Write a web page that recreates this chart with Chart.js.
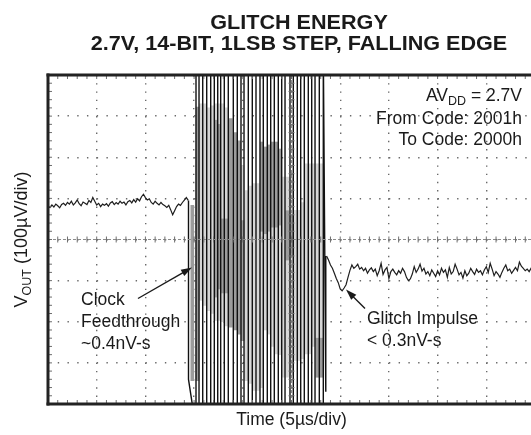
<!DOCTYPE html>
<html>
<head>
<meta charset="utf-8">
<title>Glitch Energy</title>
<script src="https://cdn.jsdelivr.net/npm/chart.js@4.4.1/dist/chart.umd.min.js"></script>
<style>
  html, body { margin: 0; padding: 0; background: #fff; overflow: hidden; }
  #scope { display: block; }
</style>
</head>
<body>
<canvas id="scope" width="540" height="435"></canvas>
<script>
// graticule: 10 x 8 divisions
const xTicks = [0, 1, 2, 3, 4, 5, 6, 7, 8, 9, 10];
const yTicks = [-4, -3, -2, -1, 0, 1, 2, 3, 4];

// scope record spacing (div per sample)
const sampleStep = 0.04;

// trace before the clock edge, starting at 0 div
const preStart = 0;
const preTrace = [
  0.80, 0.78, 0.84, 0.79, 0.86, 0.82, 0.77, 0.85, 0.88, 0.83,
  0.90, 0.86, 0.93, 0.84, 0.89, 0.96, 0.87, 0.82, 0.91, 0.88,
  0.85, 0.95, 0.90, 1.02, 0.93, 0.84, 0.88, 0.80, 0.86, 0.83,
  0.87, 0.81, 0.89, 0.92, 0.85, 0.90, 0.86, 0.93, 0.88, 0.91,
  0.84, 0.92, 0.95, 0.89, 0.97, 0.91, 0.99, 0.94, 1.04, 1.10,
  1.02, 0.96, 0.99, 0.90, 0.86, 0.93, 0.88, 0.84, 0.90, 0.85,
  0.82, 0.78, 0.83, 0.72, 0.60, 0.70, 0.80, 0.86, 0.83, 0.90,
  0.96, 1.02, 0.95
];

// trace after the code change settles
const postStart = 5.72;
const postTrace = [
  -0.40, -0.50, -0.62, -0.70, -0.82, -0.95, -1.05, -1.20, -1.25, -1.18,
  -1.10, -0.92, -0.75, -0.62, -0.70, -0.66, -0.60, -0.72, -0.68, -0.76,
  -0.70, -0.82, -0.74, -0.69, -0.78, -0.72, -0.88, -0.76, -0.58, -0.85,
  -0.74, -0.68, -0.95, -0.78, -0.72, -0.80, -0.86, -0.76, -0.82, -0.70,
  -0.78, -0.92, -1.00, -0.96, -0.84, -0.66, -0.80, -0.72, -0.60, -0.77,
  -0.70, -0.84, -0.78, -0.88, -0.74, -0.82, -0.90, -0.76, -0.86, -0.70,
  -0.80, -0.74, -0.92, -0.68, -0.84, -0.78, -0.60, -0.72, -0.86, -0.80,
  -0.94, -0.76, -0.88, -0.82, -0.70, -0.78, -0.85, -0.72, -0.80, -0.76,
  -0.86, -0.74, -0.66, -0.80, -0.58, -0.72, -0.88, -0.78, -0.84, -0.92,
  -0.80, -0.70, -0.62, -0.76, -0.72, -0.82, -0.75, -0.68, -0.76, -0.55,
  -0.65, -0.70, -0.76, -0.72, -0.78, -0.70, -0.74, -0.72
];

// clock ringing: stroke times and the level each stroke runs from / to
const ringX = [
  2.885, 3.039, 3.101, 3.177, 3.259, 3.341, 3.415, 3.485, 3.546, 3.620,
  3.702, 3.805, 3.887, 3.963, 4.025, 4.113, 4.195, 4.271, 4.353, 4.421,
  4.503, 4.573, 4.647, 4.729, 4.799, 4.867, 4.969, 5.037, 5.119, 5.189,
  5.263, 5.345, 5.415, 5.483, 5.571, 5.653, 5.704
];
const ringFrom = [
  0.95, -4.6, 4.6, -4.6, 4.6, -4.6, 4.6, -4.6, 4.6, -4.6,
  4.6, -4.6, 4.6, -4.6, 4.6, -4.6, 4.6, -4.6, 4.6, -4.6,
  4.6, -4.6, 4.6, -4.6, 4.6, -4.6, 4.6, -4.6, 4.6, -4.6,
  4.6, -4.6, 4.6, -4.6, 4.6, -4.6, -3.70
];
const ringTo = [
  -3.40, 4.6, -4.6, 4.6, -4.6, 4.6, -4.6, 4.6, -4.6, 4.6,
  -4.6, 4.6, -4.6, 4.6, -4.6, 4.6, -4.6, 4.6, -4.6, 4.6,
  -4.6, 4.6, -4.6, 4.6, -4.6, 4.6, -4.6, 4.6, -4.6, 4.6,
  -4.6, 4.6, -4.6, 4.6, -4.6, 4.6, -0.40
];

// persistence shading between the ringing strokes
const gapX = [
  2.963, 3.070, 3.140, 3.218, 3.300, 3.378, 3.450, 3.515, 3.583, 3.661,
  3.754, 3.846, 3.926, 3.994, 4.070, 4.154, 4.234, 4.312, 4.388, 4.462,
  4.538, 4.610, 4.688, 4.764, 4.834, 4.918, 5.004, 5.078, 5.154, 5.226,
  5.304, 5.380, 5.450, 5.528, 5.612
];
const lightLo = [
  null, null, -1.48, -1.60, -1.73, -1.80, -1.97, -1.97, -2.00, -2.10,
  null, null, null, -2.00, -3.43, -3.50, -3.67, -3.67, -3.60, -2.20,
  -2.30, -2.60, -2.78, -2.80, -3.35, -3.35, -3.30, -2.94, -2.94, -2.90,
  -2.78, -2.78, -2.60, -2.54, -2.54
];
const lightHi = [
  null, null, 3.30, 3.30, 3.20, 3.25, 3.30, 3.30, 3.30, 3.20,
  null, null, null, 1.80, 1.19, 1.30, 1.36, 1.36, 1.40, 0.14,
  0.20, 0.30, 0.30, 0.35, 1.52, 1.52, 1.50, 0.71, 0.71, 0.90,
  1.84, 1.84, 1.84, 1.84, 1.84
];
const darkLo = [
  -3.43, -3.43, null, null, null, null, -1.40, -1.20, -1.30, -1.30,
  -2.13, -2.20, -2.30, -2.46, null, null, null, null, 0.20, 0.14,
  0.20, 0.30, 0.30, 0.35, null, -0.50, -0.40, null, null, null,
  null, null, null, -3.35, -3.35
];
const darkHi = [
  0.83, 3.22, null, null, null, null, 2.90, 2.80, 0.50, 0.50,
  2.94, 2.60, 2.40, 0.46, null, null, null, null, 2.37, 2.25,
  2.30, 2.37, 2.37, 2.20, null, 0.70, 0.60, null, null, null,
  null, null, null, -2.40, -2.40
];

const prePoints = preTrace.map((v, i) => ({ x: preStart + i * sampleStep, y: v }));
const postPoints = postTrace.map((v, i) => ({ x: postStart + i * sampleStep, y: v }));

const ringPoints = [];
ringX.forEach((t, i) => {
  ringPoints.push({ x: t, y: ringFrom[i] });
  ringPoints.push({ x: t, y: ringTo[i] });
});

function bands(lo, hi) {
  const out = [];
  gapX.forEach((t, i) => {
    if (lo[i] !== null) out.push({ x: t, y: [lo[i], hi[i]] });
  });
  return out;
}

const FONT = '"Liberation Sans", Arial, Helvetica, sans-serif';

// draws runs of text (with subscripts) starting at x, returns width
function drawRuns(ctx, parts, x, baseline) {
  let cx = x;
  for (const [t, size, dy] of parts) {
    ctx.font = size + 'px ' + FONT;
    ctx.fillText(t, cx, baseline + dy);
    cx += ctx.measureText(t).width;
  }
  return cx - x;
}
function runsWidth(ctx, parts) {
  let w = 0;
  for (const [t, size] of parts) {
    ctx.font = size + 'px ' + FONT;
    w += ctx.measureText(t).width;
  }
  return w;
}

function arrow(ctx, x1, y1, x2, y2) {
  const ang = Math.atan2(y2 - y1, x2 - x1);
  const len = 11, half = 3.6;
  ctx.beginPath();
  ctx.moveTo(x1, y1);
  ctx.lineTo(x2 - Math.cos(ang) * len * 0.8, y2 - Math.sin(ang) * len * 0.8);
  ctx.stroke();
  ctx.beginPath();
  ctx.moveTo(x2, y2);
  ctx.lineTo(x2 - Math.cos(ang) * len - Math.sin(ang) * half, y2 - Math.sin(ang) * len + Math.cos(ang) * half);
  ctx.lineTo(x2 - Math.cos(ang) * len + Math.sin(ang) * half, y2 - Math.sin(ang) * len - Math.cos(ang) * half);
  ctx.closePath();
  ctx.fill();
}

const graticule = {
  id: 'graticule',
  afterDatasetsDraw(chart) {
    const { ctx, chartArea: a, scales: { x, y } } = chart;
    const seg = (x1, y1, x2, y2) => { ctx.beginPath(); ctx.moveTo(x1, y1); ctx.lineTo(x2, y2); ctx.stroke(); };
    const xMid = x.getPixelForValue(xTicks[(xTicks.length - 1) / 2]);
    const yMid = y.getPixelForValue(yTicks[(yTicks.length - 1) / 2]);

    ctx.save();
    // centre cross
    ctx.strokeStyle = '#8c8c8c';
    ctx.lineWidth = 1;
    ctx.setLineDash([3, 2]);
    seg(a.left, yMid, a.right, yMid);
    seg(xMid, a.top, xMid, a.bottom);
    ctx.setLineDash([]);

    // minor ticks on the centre cross and along the frame
    ctx.strokeStyle = '#6e6e6e';
    for (let k = 0; k < xTicks.length - 1; k++) {
      for (let m = 0; m < 5; m++) {
        const px = x.getPixelForValue(xTicks[k] + m * (xTicks[k + 1] - xTicks[k]) / 5);
        seg(px, yMid - 3, px, yMid + 3);
        seg(px, a.top, px, a.top + 4);
        seg(px, a.bottom - 4, px, a.bottom);
      }
    }
    for (let k = 0; k < yTicks.length - 1; k++) {
      for (let m = 0; m < 5; m++) {
        const py = y.getPixelForValue(yTicks[k] + m * (yTicks[k + 1] - yTicks[k]) / 5);
        seg(xMid - 3, py, xMid + 3, py);
        seg(a.left, py, a.left + 4, py);
      }
    }

    // frame
    ctx.strokeStyle = '#222';
    ctx.lineWidth = 3;
    ctx.lineCap = 'square';
    seg(a.left, a.top, a.right, a.top);
    seg(a.left, a.top, a.left, a.bottom);
    seg(a.left, a.bottom, a.right, a.bottom);
    ctx.restore();
  },
  afterDraw(chart) {
    const { ctx, scales: { x, y } } = chart;
    ctx.save();
    ctx.fillStyle = '#1a1a1a';
    ctx.strokeStyle = '#1a1a1a';
    ctx.textBaseline = 'alphabetic';

    // title, slightly widened
    ctx.save();
    ctx.textAlign = 'center';
    ctx.translate(299, 0);
    ctx.scale(1.08, 1);
    ctx.font = 'bold 20px ' + FONT;
    ctx.fillText('GLITCH ENERGY', 0, 29);
    ctx.fillText('2.7V, 14-BIT, 1LSB STEP, FALLING EDGE', 0, 50);
    ctx.restore();

    ctx.textAlign = 'left';
    // axis titles
    ctx.font = '17.5px ' + FONT;
    const tLabel = 'Time (5µs/div)';
    ctx.fillText(tLabel, x.getPixelForValue(5) - ctx.measureText(tLabel).width / 2, 425);

    const yParts = [['V', 18, 0], ['OUT', 12.5, 4], [' (100µV/div)', 18, 0]];
    ctx.save();
    ctx.translate(20, y.getPixelForValue(0));
    ctx.rotate(-Math.PI / 2);
    drawRuns(ctx, yParts, -runsWidth(ctx, yParts) / 2, 6.5);
    ctx.restore();

    // supply and code notes, right aligned
    const right = 522;
    const avParts = [['AV', 17.5, 0], ['DD', 12.5, 4], [' = 2.7V', 17.5, 0]];
    drawRuns(ctx, avParts, right - runsWidth(ctx, avParts), 101);
    ctx.font = '17.5px ' + FONT;
    ctx.textAlign = 'right';
    ctx.fillText('From Code: 2001h', right, 123.5);
    ctx.fillText('To Code: 2000h', right, 145);
    ctx.textAlign = 'left';

    // callouts
    ctx.fillText('Clock', 81, 305);
    ctx.fillText('Feedthrough', 81, 327);
    ctx.fillText('~0.4nV-s', 81, 349);
    ctx.fillText('Glitch Impulse', 367, 324);
    ctx.fillText('< 0.3nV-s', 367, 346);

    ctx.lineWidth = 1.4;
    arrow(ctx, x.getPixelForValue(1.848), y.getPixelForValue(-1.435),
               x.getPixelForValue(2.957), y.getPixelForValue(-0.681));
    arrow(ctx, x.getPixelForValue(6.509), y.getPixelForValue(-1.679),
               x.getPixelForValue(6.119), y.getPixelForValue(-1.217));
    ctx.restore();
  }
};

const traceStyle = { pointRadius: 0, tension: 0, fill: false };

new Chart(document.getElementById('scope'), {
  type: 'line',
  data: {
    datasets: [
      { type: 'bar', label: 'persistence light', data: bands(lightLo, lightHi),
        backgroundColor: '#d6d6d6', barThickness: 3, grouped: false, order: 4 },
      { type: 'bar', label: 'persistence dark', data: bands(darkLo, darkHi),
        backgroundColor: '#9c9c9c', barThickness: 3, grouped: false, order: 3 },
      { label: 'ringing', data: ringPoints, borderColor: '#111', borderWidth: 1.4, order: 2, ...traceStyle },
      { label: 'before', data: prePoints, borderColor: '#1e1e1e', borderWidth: 1.2, order: 1, ...traceStyle },
      { label: 'after', data: postPoints, borderColor: '#1e1e1e', borderWidth: 1.2, order: 1, ...traceStyle }
    ]
  },
  options: {
    responsive: false,
    animation: false,
    events: [],
    layout: { padding: { left: 48, top: 75, right: 5, bottom: 31 } },
    plugins: {
      legend: { display: false },
      tooltip: { enabled: false },
      title: { display: false }
    },
    scales: {
      x: {
        type: 'linear', min: xTicks[0], max: xTicks[xTicks.length - 1], offset: false,
        ticks: { display: false, stepSize: 1 },
        grid: { color: '#6a6a6a', lineWidth: 1.4, drawTicks: false, offset: false },
        border: { display: false, dash: [1.4, 6.82] }
      },
      y: {
        type: 'linear', min: yTicks[0], max: yTicks[yTicks.length - 1],
        ticks: { display: false, stepSize: 1 },
        grid: { color: '#6a6a6a', lineWidth: 1.4, drawTicks: false },
        border: { display: false, dash: [1.4, 8.34] }
      }
    }
  },
  plugins: [graticule]
});
</script>
</body>
</html>
